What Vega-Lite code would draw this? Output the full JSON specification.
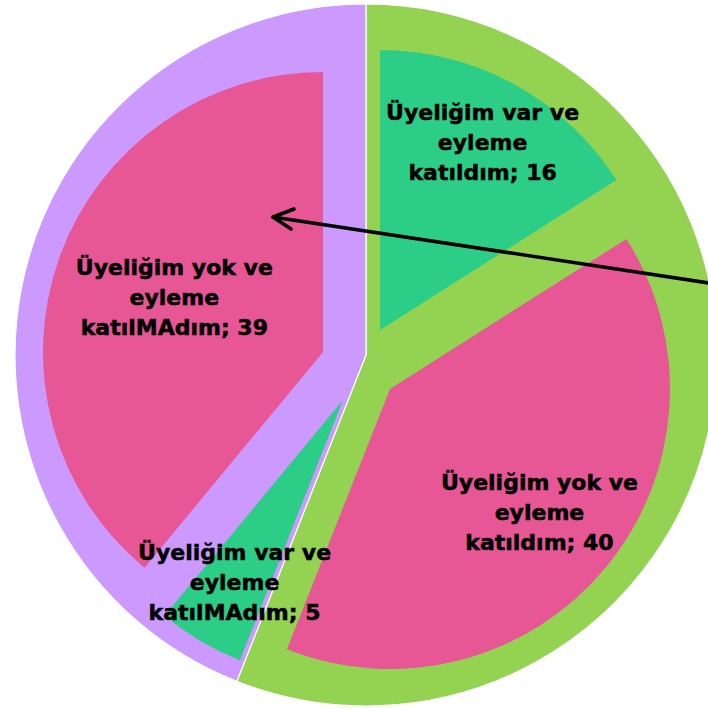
{
  "$schema": "https://vega.github.io/schema/vega-lite/v6.json",
  "width": 708,
  "height": 709,
  "autosize": {"type": "none"},
  "padding": 0,
  "background": "white",
  "config": {"view": {"stroke": null}},
  "datasets": {
    "slices": [
      {"order": 1, "member": "Üyeliğim var", "participation": "Eyleme katıldım", "value": 16, "label": "Üyeliğim var ve\neyleme\nkatıldım; 16"},
      {"order": 2, "member": "Üyeliğim yok", "participation": "Eyleme katıldım", "value": 40, "label": "Üyeliğim yok ve\neyleme\nkatıldım; 40"},
      {"order": 3, "member": "Üyeliğim var", "participation": "Eyleme katılMAdım", "value": 5, "label": "Üyeliğim var ve\neyleme\nkatılMAdım; 5"},
      {"order": 4, "member": "Üyeliğim yok", "participation": "Eyleme katılMAdım", "value": 39, "label": "Üyeliğim yok ve\neyleme\nkatılMAdım; 39"}
    ],
    "arrow": [
      {"part": "shaft", "x": 273, "y": 217, "x2": 722, "y2": 285},
      {"part": "head upper", "x": 273, "y": 217, "x2": 294, "y2": 209},
      {"part": "head lower", "x": 273, "y": 217, "x2": 291, "y2": 229}
    ]
  },
  "data": {"name": "slices"},
  "encoding": {
    "theta": {"field": "value", "type": "quantitative", "stack": true},
    "order": {"field": "order", "type": "quantitative"}
  },
  "layer": [
    {
      "transform": [
        {"aggregate": [{"op": "sum", "field": "value", "as": "total"}, {"op": "min", "field": "order", "as": "o"}], "groupby": ["participation"]}
      ],
      "mark": {"type": "arc", "radius": 351, "stroke": "white", "strokeWidth": 1.2, "xOffset": 12, "yOffset": 0.5},
      "encoding": {
        "theta": {"field": "total", "type": "quantitative", "stack": true},
        "order": {"field": "o", "type": "quantitative"},
        "color": {"field": "participation", "type": "nominal",
          "scale": {"domain": ["Eyleme katıldım", "Eyleme katılMAdım", "Üyeliğim var", "Üyeliğim yok"], "range": ["#94D251", "#CC99FF", "#2CCE87", "#E75695"]},
          "legend": null}
      }
    },
    {
      "mark": {"type": "arc", "radius": 280, "xOffset": 26, "yOffset": -24.5},
      "encoding": {
        "color": {"field": "member", "type": "nominal", "legend": null},
        "opacity": {"condition": {"test": "datum.order === 1", "value": 1}, "value": 0}
      }
    },
    {
      "mark": {"type": "arc", "radius": 280, "xOffset": 36, "yOffset": 34.5},
      "encoding": {
        "color": {"field": "member", "type": "nominal", "legend": null},
        "opacity": {"condition": {"test": "datum.order === 2", "value": 1}, "value": 0}
      }
    },
    {
      "mark": {"type": "arc", "radius": 280, "xOffset": -11, "yOffset": 45.5},
      "encoding": {
        "color": {"field": "member", "type": "nominal", "legend": null},
        "opacity": {"condition": {"test": "datum.order === 3", "value": 1}, "value": 0}
      }
    },
    {
      "mark": {"type": "arc", "radius": 280, "xOffset": -31, "yOffset": -2.5},
      "encoding": {
        "color": {"field": "member", "type": "nominal", "legend": null},
        "opacity": {"condition": {"test": "datum.order === 4", "value": 1}, "value": 0}
      }
    },
    {
      "mark": {"type": "text", "radius": 213, "xOffset": 26, "yOffset": -24.5, "dy": -30, "font": "DejaVu Sans", "fontWeight": "bold", "fontSize": 22, "lineHeight": 30, "lineBreak": "\n", "align": "center", "baseline": "middle", "color": "black", "stroke": "black", "strokeWidth": 0.5},
      "encoding": {
        "text": {"field": "label"},
        "opacity": {"condition": {"test": "datum.order === 1", "value": 1}, "value": 0}
      }
    },
    {
      "mark": {"type": "text", "radius": 194, "xOffset": 36, "yOffset": 34.5, "dy": -30, "font": "DejaVu Sans", "fontWeight": "bold", "fontSize": 22, "lineHeight": 30, "lineBreak": "\n", "align": "center", "baseline": "middle", "color": "black", "stroke": "black", "strokeWidth": 0.5},
      "encoding": {
        "text": {"field": "label"},
        "opacity": {"condition": {"test": "datum.order === 2", "value": 1}, "value": 0}
      }
    },
    {
      "mark": {"type": "text", "radius": 213, "xOffset": -11, "yOffset": 45.5, "dy": -30, "font": "DejaVu Sans", "fontWeight": "bold", "fontSize": 22, "lineHeight": 30, "lineBreak": "\n", "align": "center", "baseline": "middle", "color": "black", "stroke": "black", "strokeWidth": 0.5},
      "encoding": {
        "text": {"field": "label"},
        "opacity": {"condition": {"test": "datum.order === 3", "value": 1}, "value": 0}
      }
    },
    {
      "mark": {"type": "text", "radius": 158, "xOffset": -31, "yOffset": -2.5, "dy": -30, "font": "DejaVu Sans", "fontWeight": "bold", "fontSize": 22, "lineHeight": 30, "lineBreak": "\n", "align": "center", "baseline": "middle", "color": "black", "stroke": "black", "strokeWidth": 0.5},
      "encoding": {
        "text": {"field": "label"},
        "opacity": {"condition": {"test": "datum.order === 4", "value": 1}, "value": 0}
      }
    },
    {
      "data": {"name": "arrow"},
      "mark": {"type": "rule", "color": "black", "strokeWidth": 3.5, "strokeCap": "round"},
      "encoding": {
        "theta": null,
        "order": null,
        "x": {"field": "x", "type": "quantitative", "scale": {"domain": [0, 708], "nice": false, "zero": false}, "axis": null},
        "y": {"field": "y", "type": "quantitative", "scale": {"domain": [0, 709], "nice": false, "zero": false, "reverse": true}, "axis": null},
        "x2": {"field": "x2"},
        "y2": {"field": "y2"}
      }
    }
  ]
}
